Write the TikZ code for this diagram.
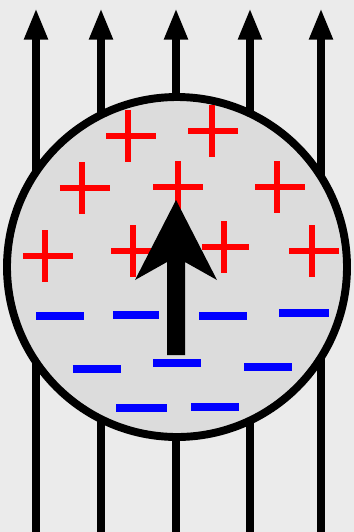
\documentclass[tikz,border=0pt]{standalone}
\usepackage{tikz}
\usetikzlibrary{arrows.meta}
\definecolor{paper}{RGB}{235,235,235}
\definecolor{sphere}{RGB}{220,220,220}

\begin{document}
\begin{tikzpicture}[x=0.02cm, y=-0.02cm,
                    fieldline/.style={line width=5pt, -{Triangle[length=18pt, width=12.5pt]}},
                    plus/.style={red, line width=3.4pt},
                    minus/.style={blue, line width=4.5pt}]
  \fill[paper] (0,0) rectangle (354,532);
  \useasboundingbox (0,0) rectangle (354,532);

  % External field
  \coordinate (b0) at (36,532);  \coordinate (t0) at (36,8);
  \coordinate (b1) at (101,532); \coordinate (t1) at (101,8);
  \coordinate (b2) at (176,532); \coordinate (t2) at (176,8);
  \coordinate (b3) at (250,532); \coordinate (t3) at (250,8);
  \coordinate (b4) at (321,532); \coordinate (t4) at (321,8);

  \draw[fieldline] (b0) -- (t0); \draw[fieldline] (b1) -- (t1);
  \draw[fieldline] (b2) -- (t2); \draw[fieldline] (b3) -- (t3);
  \draw[fieldline] (b4) -- (t4);

  % Sphere
  \coordinate (ctr) at (177,267);
  \filldraw[fill=sphere, line width=4.5pt] (ctr) circle (170);

  % Positive charges
  \draw[plus] (106,136) -- (156,136) (128,110) -- (128,162);
  \draw[plus] (188,131) -- (238,131) (212,105) -- (212,157);
  \draw[plus] (60,188) -- (110,188) (82,162) -- (82,214);
  \draw[plus] (153,187) -- (203,187) (178,161) -- (178,213);
  \draw[plus] (255,187) -- (305,187) (277,161) -- (277,213);
  \draw[plus] (23,256) -- (73,256) (45,230) -- (45,282);
  \draw[plus] (111,251) -- (157,251) (133,225) -- (133,277);
  \draw[plus] (202,247) -- (249,247) (224,221) -- (224,273);
  \draw[plus] (289,251) -- (339,251) (312,225) -- (312,277);

  % Negative charges
  \draw[minus] (36,316) -- (84,316);
  \draw[minus] (113,315) -- (159,315);
  \draw[minus] (199,316) -- (247,316);
  \draw[minus] (279,313) -- (329,313);
  \draw[minus] (73,369) -- (121,369);
  \draw[minus] (153,363) -- (201,363);
  \draw[minus] (244,367) -- (292,367);
  \draw[minus] (116,408) -- (167,408);
  \draw[minus] (191,407) -- (239,407);

  % Dipole moment
  \fill (176,200) -- (217,280) -- (185,262) -- (185,355)
        -- (167,355) -- (167,262) -- (135,280) -- cycle;
\end{tikzpicture}
\end{document}
